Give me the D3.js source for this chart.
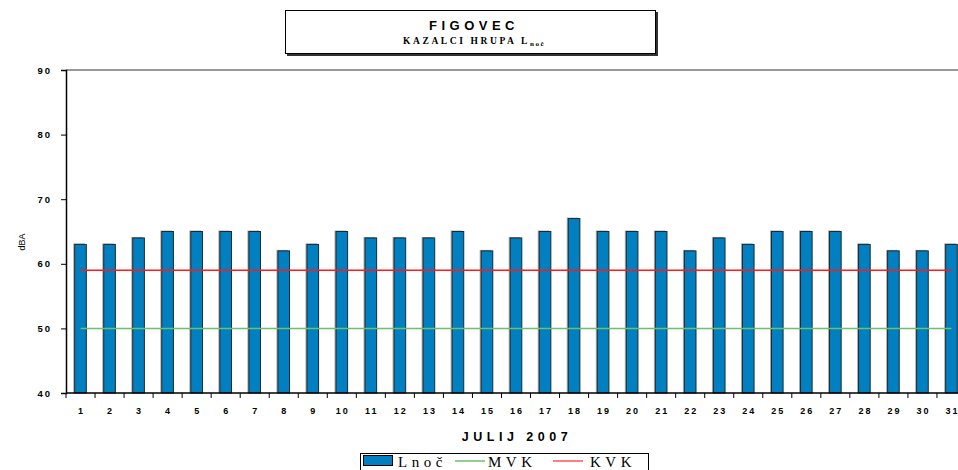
<!DOCTYPE html>
<html lang="sl">
<head>
  <meta charset="UTF-8" />
  <title>Figovec - kazalci hrupa Lnoč</title>
  <script src="https://d3js.org/d3.v7.min.js"></script>
  <style>
    body { margin: 0; background: #fff; overflow: hidden; }
    svg { display: block; }
    .tick-lbl { font-family: Arial, 'Liberation Sans', sans-serif; font-size: 9px; font-weight: bold; letter-spacing: 2px; fill: #000; }
    .times { font-family: 'Liberation Serif', 'Times New Roman', serif; }
  </style>
</head>
<body>
  <svg id="chart" width="958" height="470"></svg>
  <script>
    // data
    const days = d3.range(1, 32).map(String);
    const lnoc = [63, 63, 64, 65, 65, 65, 65, 62, 63, 65, 64, 64, 64, 65, 62, 64,
                  65, 67, 65, 65, 65, 62, 64, 63, 65, 65, 65, 63, 62, 62, 63];
    const mvk = 50;
    const kvk = 59;
    const yTicks = [40, 50, 60, 70, 80, 90];

    const svg = d3.select("#chart");
    const pLeft = 66, pTop = 70, pBottom = 393, pRight = 966;

    const x = d3.scaleBand().domain(days).range([pLeft, pRight]).paddingInner(0.6).paddingOuter(0.3);
    const xb = d3.scaleBand().domain(days).range([pLeft, pRight]);
    const y = d3.scaleLinear().domain([40, 90]).range([pBottom, pTop]);

    // top border of plot area
    svg.append("line").attr("x1", pLeft).attr("x2", 958).attr("y1", pTop).attr("y2", pTop)
      .attr("stroke", "#777").attr("stroke-width", 1.5);

    // bars with a light shadow
    svg.selectAll(".shadow").data(lnoc).enter().append("rect")
      .attr("x", (d, i) => x(days[i]) - 1.5)
      .attr("y", d => y(d) - 1)
      .attr("width", x.bandwidth())
      .attr("height", d => pBottom - y(d) + 1)
      .attr("fill", "#aaa");
    svg.selectAll(".bar").data(lnoc).enter().append("rect")
      .attr("x", (d, i) => x(days[i]))
      .attr("y", d => y(d))
      .attr("width", x.bandwidth())
      .attr("height", d => pBottom - y(d))
      .attr("fill", "#0080c0")
      .attr("stroke", "#1c2a33")
      .attr("stroke-width", 1);

    // limit lines
    const c0 = xb(days[0]) + xb.bandwidth() / 2;
    const c1 = xb(days[30]) + xb.bandwidth() / 2;
    svg.append("line").attr("x1", c0).attr("x2", c1).attr("y1", y(mvk)).attr("y2", y(mvk))
      .attr("stroke", "#6cbf6c").attr("stroke-width", 1.5);
    svg.append("line").attr("x1", c0).attr("x2", c1).attr("y1", y(kvk)).attr("y2", y(kvk))
      .attr("stroke", "#ff1a1a").attr("stroke-width", 1.5);

    // y axis
    const yAxis = svg.append("g").attr("transform", `translate(${pLeft},0)`)
      .call(d3.axisLeft(y).tickValues(yTicks).tickSize(5).tickPadding(9).tickFormat(d3.format("d")));
    yAxis.select(".domain").attr("stroke", "#000").attr("stroke-width", 1.5);
    yAxis.selectAll(".tick line").attr("stroke", "#000");
    yAxis.attr("font-family", null).attr("font-size", null);
    yAxis.selectAll("text").attr("class", "tick-lbl").style("font-size", "9.5px");

    // x axis: ticks at category boundaries, labels at centres
    const xAxis = svg.append("g").attr("transform", `translate(0,${pBottom})`);
    xAxis.append("line").attr("x1", pLeft).attr("x2", 958).attr("stroke", "#000").attr("stroke-width", 1.5);
    xAxis.selectAll(".xt").data(days).enter().append("line")
      .attr("x1", d => xb(d)).attr("x2", d => xb(d)).attr("y1", 0).attr("y2", 5)
      .attr("stroke", "#000");
    xAxis.selectAll(".xl").data(days).enter().append("text")
      .attr("class", "tick-lbl")
      .attr("x", d => xb(d) + xb.bandwidth() / 2 + 1)
      .attr("y", 21)
      .attr("text-anchor", "middle")
      .text(d => d);

    // y title
    svg.append("text").attr("transform", "translate(25,242) rotate(-90)")
      .attr("text-anchor", "middle")
      .style("font-family", "Arial, 'Liberation Sans', sans-serif").style("font-size", "9px")
      .text("dBA");

    // x title
    svg.append("text").attr("x", 517).attr("y", 441).attr("text-anchor", "middle")
      .style("font-family", "Arial, 'Liberation Sans', sans-serif").style("font-size", "12.5px")
      .style("font-weight", "bold").style("letter-spacing", "4.5px")
      .text("JULIJ  2007");

    // title box
    svg.append("rect").attr("x", 287).attr("y", 12).attr("width", 371).attr("height", 44).attr("fill", "#333");
    svg.append("rect").attr("x", 285.5).attr("y", 10.5).attr("width", 370).attr("height", 43)
      .attr("fill", "#fff").attr("stroke", "#000").attr("stroke-width", 1);
    svg.append("text").attr("x", 474).attr("y", 30).attr("text-anchor", "middle")
      .style("font-family", "Arial, 'Liberation Sans', sans-serif").style("font-size", "13px")
      .style("font-weight", "bold").style("letter-spacing", "4.5px")
      .text("FIGOVEC");
    const sub = svg.append("text").attr("class", "times").attr("x", 474).attr("y", 44).attr("text-anchor", "middle")
      .style("font-size", "9.5px").style("font-weight", "bold").style("letter-spacing", "2.6px");
    sub.append("tspan").text("KAZALCI HRUPA L");
    sub.append("tspan").attr("dy", 2).style("font-size", "7px").style("letter-spacing", "1.5px").text("noč");

    // legend
    const lg = svg.append("g");
    lg.append("rect").attr("x", 360.5).attr("y", 453.5).attr("width", 288).attr("height", 22)
      .attr("fill", "#fff").attr("stroke", "#000");
    const items = [
      { name: "Lnoč", type: "bar", color: "#0080c0", x: 363, tx: 398 },
      { name: "MVK", type: "line", color: "#8fd08f", x: 455, tx: 488 },
      { name: "KVK", type: "line", color: "#ff7f7f", x: 553, tx: 590 }
    ];
    items.forEach(it => {
      if (it.type === "bar") {
        lg.append("rect").attr("x", it.x + 0.5).attr("y", 455.5).attr("width", 29).attr("height", 10)
          .attr("fill", it.color).attr("stroke", "#000");
      } else {
        lg.append("line").attr("x1", it.x).attr("x2", it.x + 30).attr("y1", 461).attr("y2", 461)
          .attr("stroke", it.color).attr("stroke-width", 2);
      }
      lg.append("text").attr("class", "times")
        .attr("x", it.tx).attr("y", 467)
        .style("font-size", "15px").style("letter-spacing", "4.5px")
        .text(it.name);
    });
  </script>
</body>
</html>
